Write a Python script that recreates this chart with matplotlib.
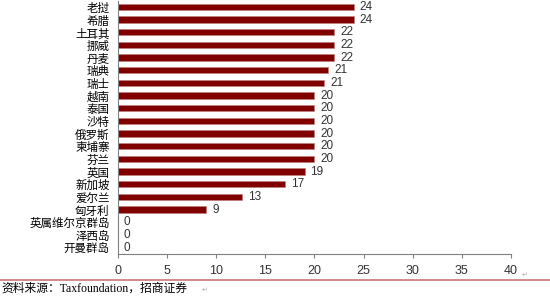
import matplotlib
matplotlib.use('Agg')
from matplotlib import pyplot as plt
import numpy as np

plt.rcParams['font.family'] = ['Liberation Sans', 'Noto Sans CJK SC', 'DejaVu Sans']

# data (top to bottom as in the picture)
countries = ['老挝', '希腊', '土耳其', '挪威', '丹麦', '瑞典', '瑞士', '越南', '泰国', '沙特',
             '俄罗斯', '柬埔寨', '芬兰', '英国', '新加坡', '爱尔兰', '匈牙利',
             '英属维尔京群岛', '泽西岛', '开曼群岛']
rates = [24, 24, 22, 22, 22, 21.4, 21, 20, 20, 20, 20, 20, 20, 19, 17, 12.6, 9, 0, 0, 0]
xticks = [0, 5, 10, 15, 20, 25, 30, 35, 40]

bar_color = '#800000'
axis_grey = '#808080'

fig = plt.figure(figsize=(5.5, 2.97), dpi=100)
ax = fig.add_axes([0.2145, 0.145, 0.7145, 0.853])

y = np.arange(len(countries))
bars = ax.barh(y, rates, height=0.5, color=bar_color, edgecolor='#c08080', linewidth=0.4)
ax.set_ylim(len(countries) - 0.5, -0.5)
ax.set_xlim(0, 40)

# value labels
for yi, v in zip(y, rates):
    ax.text(v + 0.6, yi, '%d' % round(v), va='center', ha='left', fontsize=8.5, color='#333333')

ax.set_yticks(y)
ax.set_yticklabels(countries, fontsize=8.3, fontfamily=['Noto Sans CJK SC'])
ax.tick_params(axis='y', length=0, pad=6)
ax.set_xticks(xticks)
ax.set_xticklabels([str(t) for t in xticks], fontsize=9, color='#333333')
ax.tick_params(axis='x', direction='out', length=3, color=axis_grey, pad=5)

for s in ['top', 'right']:
    ax.spines[s].set_visible(False)
ax.spines['left'].set_color(axis_grey)
ax.spines['bottom'].set_color(axis_grey)

# word-style footer
fig.add_artist(plt.Line2D([0, 1], [1 - 280 / 297, 1 - 280 / 297], color='#c87878', linewidth=1.2))
fig.text(0.002, 1 - 289 / 297, '资料来源：Taxfoundation，招商证券', fontsize=8.5, va='center', ha='left',
         family=['Liberation Serif', 'Noto Sans CJK SC'], color='black')
fig.text(0.948, 1 - 275 / 297, '↵', fontsize=5, color='#aaaaaa', ha='left', va='center', family=['DejaVu Sans'])
fig.text(0.367, 1 - 290 / 297, '↵', fontsize=5, color='#aaaaaa', ha='left', va='center', family=['DejaVu Sans'])

plt.savefig('out.png', dpi=100)
